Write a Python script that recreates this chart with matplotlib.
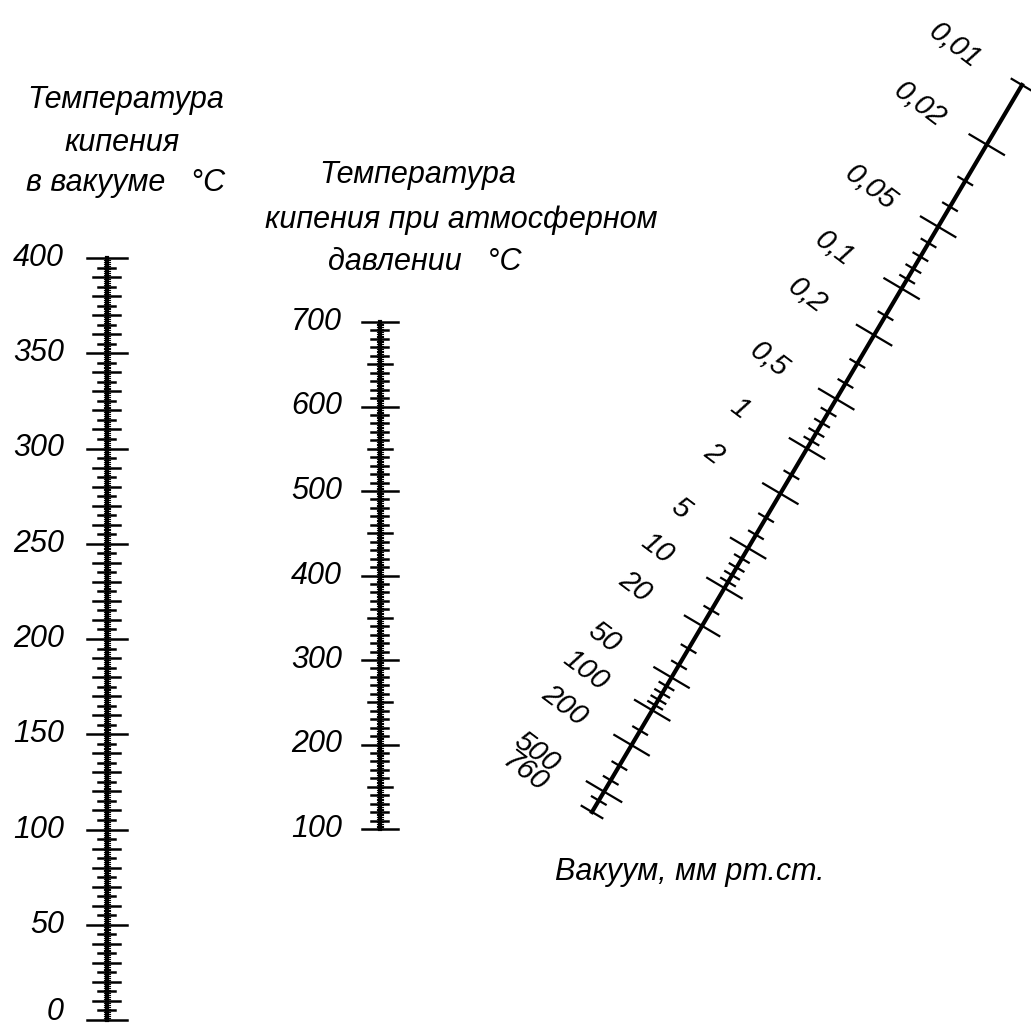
import numpy as np
import matplotlib
matplotlib.use("Agg")
import matplotlib.pyplot as plt

# шкала 1: температура кипения в вакууме, °C
vac_temp_labels = [0, 50, 100, 150, 200, 250, 300, 350, 400]
# шкала 2: температура кипения при атмосферном давлении, °C
atm_temp_labels = [100, 200, 300, 400, 500, 600, 700]
# шкала 3: вакуум, мм рт.ст. (значения и их доля длины шкалы сверху вниз)
vac_values = [0.01, 0.02, 0.05, 0.1, 0.2, 0.5, 1, 2, 5, 10, 20, 50, 100, 200, 500, 760]
vac_labels = ["0,01", "0,02", "0,05", "0,1", "0,2", "0,5", "1", "2", "5",
              "10", "20", "50", "100", "200", "500", "760"]
vac_frac = [0.0, 0.082, 0.195, 0.280, 0.344, 0.432, 0.500, 0.562, 0.637,
            0.692, 0.744, 0.815, 0.860, 0.908, 0.972, 1.0]
vac_minor = [0.03, 0.04, 0.06, 0.07, 0.08, 0.09, 0.15, 0.3, 0.4, 0.6, 0.7, 0.8, 0.9,
             1.5, 3, 4, 6, 7, 8, 9, 15, 30, 40, 60, 70, 80, 90, 150, 300, 400, 600]

plt.rcParams['font.family'] = ["Liberation Sans", "DejaVu Sans"]

fig = plt.figure(figsize=(10.31, 10.32), dpi=100)
ax = fig.add_axes([0, 0, 1, 1])
ax.set_xlim(0, 1031)
ax.set_ylim(1032, 0)
ax.axis("off")

lab = dict(fontsize=22, style="italic", color="black")
ttl = dict(fontsize=22, style="italic", color="black", ha="center", va="center")

# --- левая шкала
x1 = 107
def y1(v):
    return 1020 - v * (1020 - 258) / 400.0

ax.plot([x1, x1], [y1(0), y1(400)], color="black", lw=3)
for v in range(0, 401, 5):
    if v % 50 == 0:
        a, b = 20, 20
    elif v % 10 == 0:
        a, b = 14, 13
    else:
        a, b = 9, 8
    ax.plot([x1 - a, x1 + b], [y1(v), y1(v)], color="black", lw=1.8)
for v in range(0, 400, 1):
    ax.plot([x1 - 3, x1 + 3], [y1(v), y1(v)], color="black", lw=0.8)
for v in vac_temp_labels:
    # нижняя подпись чуть выше, чтобы не обрезалась краем
    ax.text(x1 - 43, min(y1(v), 1012), str(v), ha="right", va="center", **lab)
ax.text(126, 100, "Температура", **ttl)
ax.text(122, 143, "кипения", **ttl)
ax.text(126, 183, "в вакууме   °С", **ttl)

# --- средняя шкала
x2 = 380
def y2(v):
    return 829 - (v - 100) * (829 - 322) / 600.0

ax.plot([x2, x2], [y2(100), y2(700)], color="black", lw=3)
for v in range(100, 701, 10):
    if v % 100 == 0:
        a, b = 18, 18
    elif v % 50 == 0:
        a, b = 12, 12
    else:
        a, b = 9, 8
    ax.plot([x2 - a, x2 + b], [y2(v), y2(v)], color="black", lw=1.8)
for v in range(100, 700, 2):
    ax.plot([x2 - 3, x2 + 3], [y2(v), y2(v)], color="black", lw=0.8)
for v in atm_temp_labels:
    ax.text(x2 - 38, y2(v), str(v), ha="right", va="center", **lab)
ax.text(418, 175, "Температура", **ttl)
ax.text(461, 220, "кипения при атмосферном", **ttl)
ax.text(425, 262, "давлении   °С", **ttl)

# --- диагональная шкала вакуума
p0 = np.array([1022.0, 85.0])
p1 = np.array([592.0, 812.0])
d = p1 - p0
u = d / np.hypot(*d)
n = np.array([u[1], -u[0]])  # перпендикуляр вправо-вниз
if n[0] < 0:
    n = -n

def pos(v):
    t = np.interp(np.log10(v), np.log10(vac_values), vac_frac)
    return p0 + t * d

ax.plot([p0[0], p1[0]], [p0[1], p1[1]], color="black", lw=3)
for v in vac_values:
    c = pos(v)
    h = 12 if v in (0.01, 760) else 20
    ax.plot([c[0] - h * n[0], c[0] + h * n[0]], [c[1] - h * n[1], c[1] + h * n[1]],
            color="black", lw=1.6)
for v in vac_minor:
    c = pos(v)
    ax.plot([c[0] - 8 * n[0], c[0] + 8 * n[0]], [c[1] - 8 * n[1], c[1] + 8 * n[1]],
            color="black", lw=1.6)
for v, s in zip(vac_values, vac_labels):
    c = pos(v) - 78 * n
    ax.text(c[0], c[1], s, ha="center", va="center", rotation=-37,
            fontsize=21, style="italic", color="black")

ax.text(690, 872, "Вакуум, мм рт.ст.", ha="center", va="center",
        fontsize=22, style="italic", color="black")

fig.savefig("out.png", dpi=100)
